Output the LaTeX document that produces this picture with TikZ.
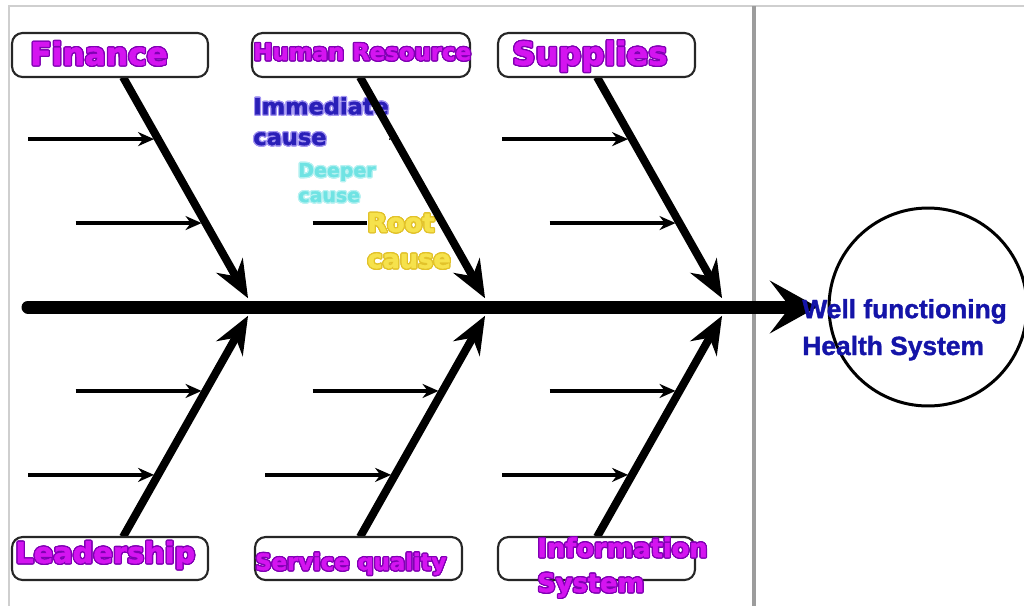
\documentclass[tikz,border=0pt]{standalone}
\usepackage{fontspec}
\usepackage{xcolor}
\usepackage{contour}
\usetikzlibrary{arrows.meta,calc}
\newfontfamily\tagfont[FakeBold=1.6]{DejaVu Sans}
\newfontfamily\goalfont[FakeBold=1.4]{Liberation Sans}
\definecolor{tagpink}{HTML}{D414F0}
\definecolor{tagpurple}{HTML}{8000B4}
\definecolor{indigo}{HTML}{2A1FB8}
\definecolor{indigoglow}{HTML}{A496F2}
\definecolor{aqua}{HTML}{6FE3E3}
\definecolor{aquaglow}{HTML}{B8F2F2}
\definecolor{gold}{HTML}{F6E24C}
\definecolor{goldglow}{HTML}{E2C22A}
\definecolor{navy}{HTML}{1414A8}
\definecolor{framegrey}{HTML}{CFCFCF}
\definecolor{divider}{HTML}{9C9C9C}
\contourlength{0.7pt}

\begin{document}
\begin{tikzpicture}[x=0.02cm, y=-0.02cm,
    tagbox/.style={draw=black!85, line width=1.2pt, rounded corners=6pt,
      fill=white, minimum height=0.88cm, inner sep=0pt},
    tagtext/.style={anchor=base west, inner sep=0pt, align=left, text=tagpink,
      font=\tagfont\bfseries\fontsize{#1}{19.9}\selectfont},
    causetext/.style={anchor=base west, inner sep=0pt, align=left, fill=white,
      font=\tagfont\bfseries\fontsize{#1}{#1}\selectfont},
    spine/.style={line width=0.26cm, line cap=round,
      -{Stealth[length=0.95cm, width=1.05cm, inset=0.4cm]}, shorten >=0.2cm},
    bone/.style={line width=0.16cm, -{Stealth[length=0.75cm, width=0.6cm]},
      shorten >=0.2cm},
    rib/.style={line width=0.07cm, -{Stealth[length=0.32cm, width=0.28cm]},
      shorten >=0.08cm}]
  \useasboundingbox (0,0) rectangle (1024,606);

  % page frame and divider
  \draw[framegrey, line width=1pt] (8,6) -- (1024,6);
  \draw[framegrey, line width=1pt] (9,6) -- (9,606);
  \draw[divider, line width=2.6pt] (754,6) -- (754,606);

  \coordinate (tail) at (28,307);
  \foreach \j/\x in {1/253, 2/490, 3/727} {
    \coordinate (j\j) at (\x,307);
    \coordinate (up\j) at (\x-130,77);
    \coordinate (dn\j) at (\x-130,537);
  }

  % sub-causes feeding each bone
  \foreach \j in {1,2,3}
    \foreach \side in {up,dn} {
      \path (\side\j) -- (j\j)
        coordinate[pos=0.27] (\side\j-far) coordinate[pos=0.635] (\side\j-near);
      \draw[rib] ($(\side\j-far)+(-130,0)$) -- (\side\j-far);
      \draw[rib] ($(\side\j-near)+(-130,0)$) -- (\side\j-near);
    }

  \node[causetext=12.8, text=indigo] (immed) at (253,145)
    {\contour{indigoglow}{Immediate}\\[4.6pt]\contour{indigoglow}{cause}};
  \node[causetext=10.8, text=aqua] (deeper) at (298,202)
    {\contour{aquaglow}{Deeper}\\[3.5pt]\contour{aquaglow}{cause}};
  \node[causetext=14.6, text=gold] (root) at (367,268)
    {\contour{goldglow}{Root}\\[6pt]\contour{goldglow}{cause}};

  \foreach \j in {1,2,3}
    \foreach \side in {up,dn}
      \draw[bone] (\side\j) -- (j\j);

  \node[circle, draw, line width=0.06cm, minimum size=3.96cm] (goal) at (928,307) {};
  \draw[spine] (tail) -- (goal.west);

  % category boxes
  \node[tagbox, minimum width=3.92cm] (fin)  at (110,55) {};
  \node[tagbox, minimum width=4.36cm] (hr)   at (361,55) {};
  \node[tagbox, minimum width=3.94cm] (sup)  at (596.5,55) {};
  \node[tagbox, minimum width=3.92cm, minimum height=0.86cm] (lead) at (110,558.5) {};
  \node[tagbox, minimum width=4.14cm, minimum height=0.86cm] (serv) at (358.5,558.5) {};
  \node[tagbox, minimum width=3.94cm, minimum height=0.86cm] (info) at (596.5,558.5) {};

  \node[tagtext=17.8] (finlbl)  at (30,65)  {\contour{tagpurple}{Finance}};
  \node[tagtext=13]   (hrlbl)   at (253,60) {\contour{tagpurple}{Human Resource}};
  \node[tagtext=18.3] (suplbl)  at (512,65) {\contour{tagpurple}{Supplies}};
  \node[tagtext=16.4] (leadlbl) at (15,563) {\contour{tagpurple}{Leadership}};
  \node[tagtext=12.9] (servlbl) at (255,570) {\contour{tagpurple}{Service quality}};
  \node[tagtext=14.6] (infolbl) at (537,592)
    {\contour{tagpurple}{Information}\\\contour{tagpurple}{System}};

  \node[anchor=base west, inner sep=0pt, align=left, text=navy,
    font=\goalfont\bfseries\fontsize{15}{21}\selectfont] (goallbl) at (802,355)
    {Well functioning\\Health System};
\end{tikzpicture}
\end{document}
